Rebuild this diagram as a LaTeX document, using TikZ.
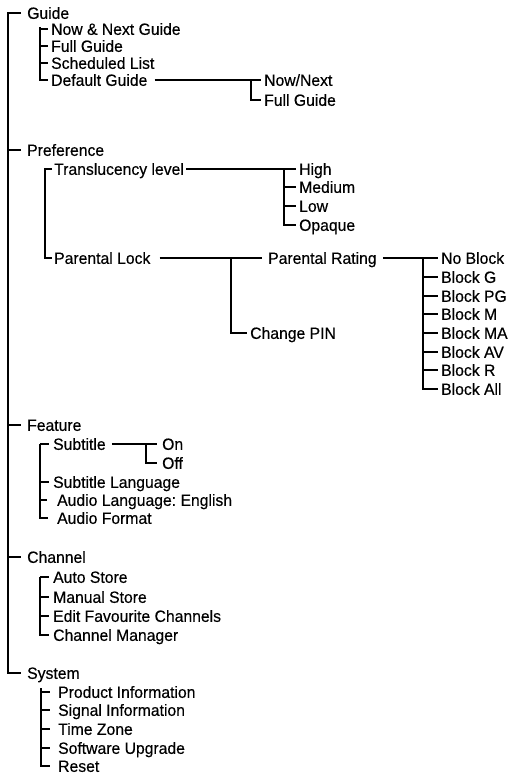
\documentclass[tikz,border=0pt]{standalone}
\usepackage{fontspec}
\setmainfont{Liberation Sans}[FakeBold=0.35,FakeStretch=0.965]
\frenchspacing
\begin{document}
\begin{tikzpicture}[x=1pt,y=-1pt,
  lbl/.style={anchor=west, inner sep=0pt, text height=11.7pt, text depth=0pt, font=\fontsize{16.3}{19}\selectfont},
  ln/.style={line width=2.1pt, line cap=butt},
  lnb/.style={line width=2.8pt}]
\useasboundingbox[fill=white] (0,0) rectangle (509,775);

% ---------- level 1 ----------
\node[lbl] (guide) at (27,13) {Guide};
\node[lbl] (pref)  at (27,150) {Preference};
\node[lbl] (feat)  at (27,425) {Feature};
\node[lbl] (chan)  at (27,557) {Channel};
\node[lbl] (sys)   at (27,673) {System};
\coordinate (spine) at (8,0);
\draw[ln] ([xshift=-6pt]guide.west) -- (spine|-guide.west) -- (spine|-sys.west) -- ([xshift=-6pt]sys.west);
\foreach \n in {pref,feat,chan}
  \draw[ln] (spine|-\n.west) -- ([xshift=-6pt]\n.west);

% ---------- Guide ----------
\node[lbl] (g1) at (51,29) {Now \& Next Guide};
\node[lbl] (g2) at (51,46) {Full Guide};
\node[lbl] (g3) at (51,63) {Scheduled List};
\node[lbl] (g4) at (51,80) {Default Guide};
\coordinate (gv) at (40,27);
\draw[ln] (gv) -- (gv|-g4.west) -- ([xshift=-3pt]g4.west);
\foreach \n in {g1,g2,g3}
  \draw[ln] (gv|-\n.west) -- ([xshift=-3pt]\n.west);
\node[lbl] (dg1) at (264,80) {Now/Next};
\node[lbl] (dg2) at (264,100) {Full Guide};
\coordinate (dgv) at (251,80);
\draw[ln] ([xshift=7pt]g4.east) -- ([xshift=-3pt]dg1.west);
\draw[ln] (dgv) -- (dgv|-dg2.west) -- ([xshift=-3pt]dg2.west);

% ---------- Preference ----------
\node[lbl] (p1) at (54,169) {Translucency level};
\node[lbl] (p2) at (54,258) {Parental Lock};
\coordinate (pv) at (45,0);
\draw[ln] ([xshift=-2pt]p1.west) -- (pv|-p1.west) -- (pv|-p2.west) -- ([xshift=-2pt]p2.west);
\node[lbl] (t1) at (299,169) {High};
\node[lbl] (t2) at (299,187) {Medium};
\node[lbl] (t3) at (299,206) {Low};
\node[lbl] (t4) at (299,225) {Opaque};
\coordinate (tv) at (284,0);
\draw[ln] ([xshift=2pt]p1.east) -- ([xshift=-3pt]t1.west);
\draw[ln] (tv|-t1.west) -- (tv|-t4.west) -- ([xshift=-3pt]t4.west);
\foreach \n in {t2,t3}
  \draw[ln] (tv|-\n.west) -- ([xshift=-3pt]\n.west);

\node[lbl] (pr) at (268,258) {Parental Rating};
\node[lbl] (cp) at (250,333) {Change PIN};
\coordinate (plv) at (231,0);
\draw[ln] ([xshift=9pt]p2.east) -- ([xshift=-6pt]pr.west);
\draw[ln] (plv|-p2.west) -- (plv|-cp.west) -- ([xshift=-3pt]cp.west);

\node[lbl] (b1) at (441,258) {No Block};
\node[lbl] (b2) at (441,277) {Block G};
\node[lbl] (b3) at (441,296) {Block PG};
\node[lbl] (b4) at (441,314) {Block M};
\node[lbl] (b5) at (441,333) {Block MA};
\node[lbl] (b6) at (441,352) {Block AV};
\node[lbl] (b7) at (441,370) {Block R};
\node[lbl] (b8) at (441,389) {Block All};
\coordinate (bv) at (423,0);
\draw[ln] ([xshift=6pt]pr.east) -- ([xshift=-3pt]b1.west);
\draw[ln] (bv|-b1.west) -- (bv|-b8.west) -- ([xshift=-3pt]b8.west);
\foreach \n in {b2,b3,b4,b5,b6,b7}
  \draw[ln] (bv|-\n.west) -- ([xshift=-3pt]\n.west);

% ---------- Feature ----------
\node[lbl] (f1) at (53,444) {Subtitle};
\node[lbl] (f2) at (53,482) {Subtitle Language};
\node[lbl] (f3) at (57,500) {Audio Language: English};
\node[lbl] (f4) at (57,518) {Audio Format};
\coordinate (fv) at (40,0);
\draw[ln] (fv|-f1.west) -- (fv|-f4.west) -- ([xshift=-9pt]f4.west);
\draw[ln] (fv|-f1.west) -- ([xshift=-4pt]f1.west);
\draw[ln] (fv|-f2.west) -- ([xshift=-4pt]f2.west);
\draw[ln] (fv|-f3.west) -- ([xshift=-10pt]f3.west);
\node[lbl] (on)  at (162,444) {On};
\node[lbl] (off) at (162,463) {Off};
\coordinate (sv) at (146,0);
\draw[ln] ([xshift=6pt]f1.east) -- ([xshift=-5pt]on.west);
\draw[ln] (sv|-on.west) -- (sv|-off.west) -- ([xshift=-5pt]off.west);

% ---------- Channel ----------
\node[lbl] (c1) at (53,577) {Auto Store};
\node[lbl] (c2) at (53,597) {Manual Store};
\node[lbl] (c3) at (53,616) {Edit Favourite Channels};
\node[lbl] (c4) at (53,635) {Channel Manager};
\coordinate (cv) at (40,0);
\draw[ln] (cv|-c1.west) -- (cv|-c4.west) -- ([xshift=-4pt]c4.west);
\foreach \n in {c1,c2,c3}
  \draw[ln] (cv|-\n.west) -- ([xshift=-4pt]\n.west);

% ---------- System ----------
\node[lbl] (s1) at (58,692) {Product Information};
\node[lbl] (s2) at (58,710) {Signal Information};
\node[lbl] (s3) at (58,729) {Time Zone};
\node[lbl] (s4) at (58,748) {Software Upgrade};
\node[lbl] (s5) at (58,766) {Reset};
\coordinate (syv) at (41,688);
\draw[lnb] (syv) -- (syv|-s5.west);
\draw[ln] ([xshift=-1pt]syv|-s5.west) -- ([xshift=-8pt]s5.west);
\foreach \n in {s1,s2,s3,s4}
  \draw[ln] (syv|-\n.west) -- ([xshift=-8pt]\n.west);
\end{tikzpicture}
\end{document}
